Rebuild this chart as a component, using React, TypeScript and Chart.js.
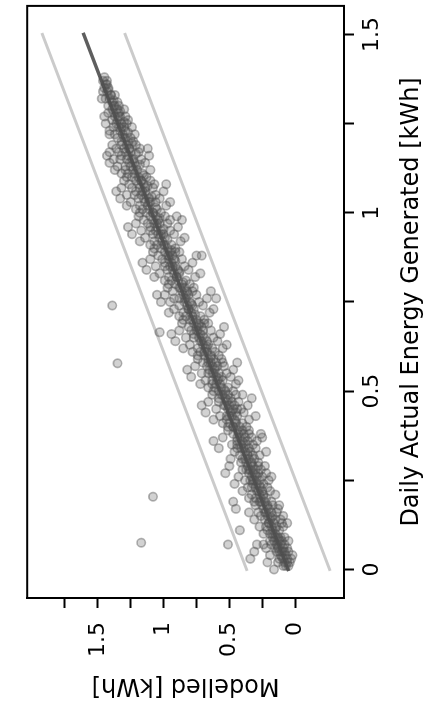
import React, { useEffect, useRef } from 'react';
import { Chart, registerables } from 'chart.js';
Chart.register(...registerables);

// Axis ticks
const actualTickValues = [0, 0.25, 0.5, 0.75, 1, 1.25, 1.5];
const actualTickLabels = ['0', '', '0.5', '', '1', '', '1.5'];
const modelledTickValues = [0, 0.25, 0.5, 0.75, 1, 1.25, 1.5, 1.75];
const modelledTickLabels = ['0', '', '0.5', '', '1', '', '1.5', ''];

// Fit line and +/- band, as [actual, modelled]
const fitLine = [[0, 0.053], [1.5, 1.607]];
const upperBand = [[0, 0.368], [1.5, 1.922]];
const lowerBand = [[0, -0.262], [1.5, 1.292]];

// Scatter points [actual, modelled]
const cloudLow = [
  [0.01,0.05],[0.02,0.08],[0.02,0.04],[0.03,0.09],[0.03,0.06],[0.04,0.11],[0.04,0.07],[0.05,0.12],[0.05,0.08],[0.05,0.10],[0.06,0.13],[0.06,0.09],[0.06,0.15],[0.07,0.11],[0.07,0.14],[0.07,0.08],[0.08,0.16],[0.08,0.12],[0.08,0.10],[0.09,0.17],[0.09,0.13],[0.09,0.11],[0.03,0.12],[0.04,0.02],[0.06,0.06],[0.08,0.19],[0.01,0.09],[0.02,0.13],[0.05,0.05],[0.07,0.18],[0.09,0.08],[0.00,0.16],[0.03,0.34],[0.05,0.31],[0.07,0.29],[0.07,0.24],[0.02,0.21],[0.04,0.19],[0.06,0.22],[0.08,0.05],[0.09,0.15],[0.05,0.14],[0.03,0.03],[0.01,0.07],
  [0.10,0.15],[0.10,0.19],[0.11,0.12],[0.11,0.17],[0.11,0.42],[0.12,0.18],[0.12,0.14],[0.12,0.22],[0.13,0.16],[0.13,0.20],[0.13,0.10],[0.14,0.19],[0.14,0.23],[0.14,0.15],[0.15,0.21],[0.15,0.17],[0.15,0.26],[0.15,0.09],[0.16,0.22],[0.16,0.18],[0.16,0.28],[0.17,0.45],[0.17,0.20],[0.17,0.24],[0.17,0.13],[0.18,0.25],[0.18,0.21],[0.18,0.30],[0.18,0.12],[0.19,0.23],[0.19,0.27],[0.19,0.47],[0.19,0.18],[0.12,0.27],[0.14,0.31],[0.16,0.35],[0.13,0.06],[0.18,0.17],[0.11,0.21],[0.19,0.31],[0.20,0.26],[0.10,0.24],[0.16,0.14],[0.14,0.11],[0.12,0.09],
  [0.20,0.22],[0.20,0.30],[0.21,0.27],[0.21,0.24],[0.21,0.33],[0.22,0.28],[0.22,0.19],[0.22,0.25],[0.23,0.30],[0.23,0.26],[0.23,0.36],[0.23,0.21],[0.24,0.29],[0.24,0.32],[0.24,0.24],[0.25,0.31],[0.25,0.27],[0.25,0.38],[0.25,0.20],[0.26,0.33],[0.26,0.29],[0.26,0.43],[0.26,0.25],[0.27,0.32],[0.27,0.35],[0.27,0.22],[0.28,0.34],[0.28,0.30],[0.28,0.40],[0.28,0.26],[0.29,0.36],[0.29,0.32],[0.29,0.50],[0.29,0.23],[0.22,0.40],[0.24,0.46],[0.27,0.53],[0.21,0.15],[0.26,0.18],[0.29,0.28],[0.23,0.33],[0.27,0.28],[0.20,0.35],[0.25,0.34],[0.28,0.37],
  [0.30,0.33],[0.30,0.37],[0.30,0.28],[0.31,0.35],[0.31,0.40],[0.31,0.31],[0.32,0.36],[0.32,0.42],[0.32,0.27],[0.33,0.38],[0.33,0.34],[0.33,0.46],[0.34,0.39],[0.34,0.35],[0.34,0.30],[0.35,0.41],[0.35,0.37],[0.35,0.48],[0.35,0.32],[0.36,0.40],[0.36,0.44],[0.36,0.29],[0.37,0.42],[0.37,0.38],[0.37,0.55],[0.37,0.33],[0.38,0.43],[0.38,0.39],[0.38,0.47],[0.38,0.26],[0.39,0.44],[0.39,0.40],[0.39,0.35],[0.39,0.51],[0.31,0.49],[0.34,0.58],[0.36,0.62],[0.33,0.22],[0.37,0.25],[0.30,0.41],[0.32,0.32],[0.35,0.44],[0.38,0.35],[0.34,0.44],[0.36,0.36],
];

const cloudMid = [
  [0.40,0.42],[0.40,0.47],[0.40,0.37],[0.41,0.45],[0.41,0.50],[0.41,0.40],[0.42,0.46],[0.42,0.52],[0.42,0.35],[0.43,0.48],[0.43,0.44],[0.43,0.57],[0.44,0.49],[0.44,0.45],[0.44,0.39],[0.45,0.51],[0.45,0.47],[0.45,0.60],[0.45,0.41],[0.46,0.50],[0.46,0.54],[0.46,0.36],[0.47,0.52],[0.47,0.48],[0.47,0.66],[0.47,0.43],[0.48,0.53],[0.48,0.49],[0.48,0.58],[0.48,0.33],[0.49,0.55],[0.49,0.51],[0.49,0.45],[0.49,0.63],[0.42,0.62],[0.44,0.68],[0.46,0.71],[0.43,0.30],[0.41,0.55],[0.47,0.58],[0.40,0.51],[0.45,0.44],[0.49,0.40],[0.43,0.52],[0.46,0.46],
  [0.50,0.53],[0.50,0.58],[0.50,0.47],[0.51,0.56],[0.51,0.61],[0.51,0.51],[0.52,0.57],[0.52,0.63],[0.52,0.45],[0.53,0.59],[0.53,0.55],[0.53,0.68],[0.54,0.60],[0.54,0.56],[0.54,0.49],[0.55,0.62],[0.55,0.58],[0.55,0.71],[0.55,0.52],[0.56,0.61],[0.56,0.65],[0.56,0.47],[0.57,0.63],[0.57,0.59],[0.57,0.76],[0.57,0.54],[0.58,0.64],[0.58,0.60],[0.58,0.70],[0.58,0.44],[0.59,0.66],[0.59,0.62],[0.59,0.56],[0.59,0.74],[0.52,0.72],[0.54,0.79],[0.56,0.82],[0.53,0.43],[0.51,0.66],[0.55,0.66],[0.57,0.67],[0.50,0.62],[0.53,0.63],[0.58,0.55],
  [0.60,0.64],[0.60,0.69],[0.60,0.58],[0.61,0.67],[0.61,0.72],[0.61,0.61],[0.62,0.68],[0.62,0.74],[0.62,0.55],[0.63,0.70],[0.63,0.66],[0.63,0.80],[0.64,0.71],[0.64,0.67],[0.64,0.59],[0.65,0.73],[0.65,0.69],[0.65,0.83],[0.65,0.62],[0.66,0.72],[0.66,0.77],[0.66,0.57],[0.67,0.74],[0.67,0.70],[0.67,0.88],[0.67,0.64],[0.68,0.75],[0.68,0.71],[0.68,0.81],[0.68,0.54],[0.69,0.77],[0.69,0.73],[0.69,0.66],[0.69,0.86],[0.62,0.85],[0.64,0.91],[0.66,0.94],[0.63,0.52],[0.61,0.78],[0.67,0.79],[0.60,0.74],[0.65,0.77],[0.69,0.69],[0.62,0.63],
  [0.70,0.75],[0.70,0.80],[0.70,0.69],[0.71,0.78],[0.71,0.83],[0.71,0.72],[0.72,0.79],[0.72,0.85],[0.72,0.65],[0.73,0.81],[0.73,0.77],[0.73,0.92],[0.74,0.82],[0.74,0.78],[0.74,0.70],[0.75,0.84],[0.75,0.80],[0.75,0.95],[0.75,0.73],[0.76,0.83],[0.76,0.88],[0.76,0.67],[0.77,0.85],[0.77,0.81],[0.77,0.99],[0.77,0.75],[0.78,0.86],[0.78,0.82],[0.78,0.93],[0.78,0.64],[0.79,0.88],[0.79,0.84],[0.79,0.77],[0.79,0.97],[0.72,0.96],[0.75,1.02],[0.77,1.05],[0.73,0.62],[0.76,0.60],[0.71,0.88],[0.74,0.88],[0.70,0.85],[0.78,0.78],[0.76,0.92],
  [0.80,0.86],[0.80,0.91],[0.80,0.80],[0.81,0.89],[0.81,0.94],[0.81,0.83],[0.82,0.90],[0.82,0.96],[0.82,0.76],[0.83,0.92],[0.83,0.88],[0.83,1.03],[0.84,0.93],[0.84,0.89],[0.84,0.81],[0.85,0.95],[0.85,0.91],[0.85,1.06],[0.85,0.84],[0.86,0.94],[0.86,0.99],[0.86,0.78],[0.87,0.96],[0.87,0.92],[0.87,1.10],[0.87,0.86],[0.88,0.97],[0.88,0.93],[0.88,1.04],[0.88,0.75],[0.89,0.99],[0.89,0.95],[0.89,0.88],[0.89,1.08],[0.82,1.07],[0.84,1.13],[0.86,1.16],[0.83,0.72],[0.88,0.71],[0.81,0.99],[0.85,0.99],[0.87,1.01],[0.80,0.96],[0.84,0.97],[0.89,0.91],
];

const cloudHigh = [
  [0.90,0.97],[0.90,1.02],[0.90,0.91],[0.91,1.00],[0.91,1.05],[0.91,0.94],[0.92,1.01],[0.92,1.07],[0.92,0.87],[0.93,1.03],[0.93,0.99],[0.93,1.14],[0.94,1.04],[0.94,1.00],[0.94,0.92],[0.95,1.06],[0.95,1.02],[0.95,1.17],[0.95,0.95],[0.96,1.05],[0.96,1.10],[0.96,0.89],[0.97,1.07],[0.97,1.03],[0.97,1.21],[0.97,0.97],[0.98,1.08],[0.98,1.04],[0.98,1.15],[0.98,0.86],[0.99,1.10],[0.99,1.06],[0.99,0.99],[0.99,1.19],[0.92,1.18],[0.94,1.24],[0.96,1.27],[0.93,0.84],[0.99,0.90],[0.91,1.10],[0.95,1.10],[0.97,1.12],[0.90,1.07],[0.94,1.08],[0.98,0.95],
  [1.00,1.08],[1.00,1.13],[1.00,1.02],[1.01,1.11],[1.01,1.16],[1.01,1.05],[1.02,1.12],[1.02,1.18],[1.02,0.98],[1.03,1.14],[1.03,1.10],[1.03,1.25],[1.04,1.15],[1.04,1.11],[1.04,1.03],[1.05,1.17],[1.05,1.13],[1.05,1.28],[1.05,1.06],[1.06,1.16],[1.06,1.21],[1.06,1.00],[1.07,1.18],[1.07,1.14],[1.07,1.32],[1.07,1.08],[1.08,1.19],[1.08,1.15],[1.08,1.26],[1.08,0.98],[1.09,1.21],[1.09,1.17],[1.09,1.10],[1.09,1.30],[1.02,1.28],[1.04,1.33],[1.06,1.36],[1.03,0.95],[1.01,1.21],[1.05,1.22],[1.07,1.24],[1.00,1.18],[1.04,1.19],[1.08,1.07],[1.03,1.06],
  [1.10,1.19],[1.10,1.24],[1.10,1.13],[1.11,1.22],[1.11,1.27],[1.11,1.16],[1.12,1.23],[1.12,1.29],[1.12,1.10],[1.13,1.25],[1.13,1.21],[1.13,1.35],[1.14,1.26],[1.14,1.22],[1.14,1.14],[1.15,1.28],[1.15,1.24],[1.15,1.38],[1.15,1.17],[1.16,1.27],[1.16,1.32],[1.16,1.11],[1.17,1.29],[1.17,1.25],[1.17,1.41],[1.17,1.19],[1.18,1.30],[1.18,1.26],[1.18,1.36],[1.18,1.12],[1.19,1.32],[1.19,1.28],[1.19,1.21],[1.19,1.39],[1.12,1.37],[1.14,1.41],[1.16,1.43],[1.11,1.32],[1.15,1.33],[1.17,1.34],[1.10,1.28],[1.13,1.29],[1.18,1.18],
  [1.20,1.27],[1.20,1.32],[1.20,1.23],[1.21,1.30],[1.21,1.35],[1.21,1.25],[1.22,1.31],[1.22,1.37],[1.22,1.22],[1.23,1.33],[1.23,1.29],[1.23,1.41],[1.24,1.34],[1.24,1.30],[1.24,1.24],[1.25,1.36],[1.25,1.32],[1.25,1.44],[1.26,1.35],[1.26,1.39],[1.26,1.27],[1.27,1.37],[1.27,1.33],[1.27,1.45],[1.28,1.38],[1.28,1.34],[1.28,1.42],[1.29,1.39],[1.29,1.35],[1.29,1.30],[1.22,1.41],[1.25,1.28],[1.27,1.29],[1.24,1.38],
  [1.30,1.38],[1.30,1.42],[1.31,1.39],[1.31,1.35],[1.32,1.41],[1.32,1.44],[1.33,1.40],[1.33,1.37],[1.34,1.43],[1.34,1.46],[1.35,1.42],[1.35,1.45],[1.36,1.44],[1.37,1.46],[1.37,1.43],[1.38,1.45],[1.30,1.34],[1.32,1.47],
];

// Dense core close to the fit line
const cloudCore = [
  [0.02,0.06],[0.035,0.10],[0.05,0.09],[0.065,0.13],[0.085,0.12],[0.10,0.17],[0.115,0.15],[0.13,0.20],[0.145,0.18],[0.16,0.23],
  [0.175,0.21],[0.19,0.26],[0.205,0.24],[0.22,0.29],[0.235,0.27],[0.25,0.32],[0.265,0.30],[0.28,0.35],[0.295,0.33],[0.31,0.38],
  [0.325,0.36],[0.34,0.41],[0.355,0.39],[0.37,0.44],[0.385,0.42],[0.40,0.47],[0.415,0.45],[0.43,0.50],[0.445,0.48],[0.46,0.53],
  [0.475,0.51],[0.49,0.56],[0.505,0.54],[0.52,0.60],[0.535,0.58],[0.55,0.63],[0.565,0.61],[0.58,0.66],[0.595,0.64],[0.61,0.69],
  [0.625,0.67],[0.64,0.72],[0.655,0.70],[0.67,0.75],[0.685,0.73],[0.70,0.78],[0.715,0.76],[0.73,0.81],[0.745,0.79],[0.76,0.84],
  [0.775,0.82],[0.79,0.87],[0.805,0.85],[0.82,0.90],[0.835,0.88],[0.85,0.93],[0.865,0.91],[0.88,0.96],[0.895,0.94],[0.91,0.99],
  [0.925,0.97],[0.94,1.02],[0.955,1.00],[0.97,1.05],[0.985,1.03],[1.00,1.08],[1.015,1.06],[1.03,1.11],[1.045,1.09],[1.06,1.14],
  [1.075,1.12],[1.09,1.17],[1.105,1.15],[1.12,1.20],[1.135,1.18],[1.15,1.23],[1.165,1.21],[1.18,1.26],[1.195,1.24],[1.21,1.29],
  [1.225,1.27],[1.24,1.32],[1.255,1.30],[1.27,1.34],[1.285,1.33],[1.30,1.37],[1.315,1.38],[1.33,1.40],[1.345,1.42],[1.36,1.43],
];

const outliers = [
  [0.075,1.17],[0.204,1.08],[0.578,1.35],[0.74,1.39],[0.665,1.03],[0.07,0.51],
];

const FONT = 'DejaVu Sans';

export default function App() {
  const ref = useRef<HTMLCanvasElement>(null);

  useEffect(() => {
    const toXY = (arr: number[][]) => arr.map(([a, m]) => ({ x: a, y: m }));
    const framePlugin = {
      id: 'frame',
      afterDraw(chart: any) {
        const { ctx, chartArea: c } = chart;
        ctx.save();
        ctx.strokeStyle = '#000';
        ctx.lineWidth = 2;
        ctx.strokeRect(c.left, c.top, c.right - c.left, c.bottom - c.top);
        ctx.restore();
      },
    };
    const lineDs = (data: number[][], color: string, width: number) => ({
      data: toXY(data),
      showLine: true,
      borderColor: color,
      borderWidth: width,
      borderCapStyle: 'square',
      pointRadius: 0,
      order: 2,
    });
    const chart = new Chart(ref.current as HTMLCanvasElement, {
      type: 'scatter',
      data: {
        datasets: [
          {
            data: toXY([...cloudLow, ...cloudMid, ...cloudHigh, ...cloudCore, ...outliers]),
            pointRadius: 4.2,
            pointBorderWidth: 1.7,
            pointBackgroundColor: 'rgba(80,80,80,0.26)',
            pointBorderColor: 'rgba(80,80,80,0.42)',
            order: 1,
          } as any,
          lineDs(upperBand, '#cbcbcb', 3) as any,
          lineDs(lowerBand, '#cbcbcb', 3) as any,
          lineDs(fitLine, '#5e5e5e', 3.5) as any,
        ],
      },
      options: {
        responsive: false,
        animation: false,
        events: [],
        layout: { padding: { top: 13, right: 4, left: 0, bottom: 0 } },
        plugins: { legend: { display: false }, tooltip: { enabled: false } },
        scales: {
          x: {
            type: 'linear',
            position: 'bottom',
            min: -0.08,
            max: 1.58,
            afterFit: (s: any) => { s.height = 84; },
            afterBuildTicks: (s: any) => { s.ticks = actualTickValues.map((v) => ({ value: v })); },
            ticks: {
              autoSkip: false,
              maxRotation: 0,
              padding: 5,
              color: '#000',
              font: { family: FONT, size: 22 },
              callback: (_v: any, i: number) => actualTickLabels[i],
            },
            grid: { display: true, drawOnChartArea: false, drawTicks: true, tickLength: 10, tickWidth: 2, color: '#000' },
            border: { display: true, color: '#000', width: 2 },
            title: {
              display: true,
              text: 'Daily Actual Energy Generated [kWh]',
              color: '#000',
              font: { family: FONT, size: 24 },
              padding: { top: 0, bottom: 2 },
            },
          },
          y: {
            type: 'linear',
            position: 'left',
            min: -0.372,
            max: 2.037,
            afterFit: (s: any) => { s.width = 108; },
            afterBuildTicks: (s: any) => { s.ticks = modelledTickValues.map((v) => ({ value: v })); },
            ticks: {
              autoSkip: false,
              padding: 14,
              color: '#000',
              font: { family: FONT, size: 22 },
              callback: (_v: any, i: number) => modelledTickLabels[i],
            },
            grid: { display: true, drawOnChartArea: false, drawTicks: true, tickLength: 10, tickWidth: 2, color: '#000' },
            border: { display: true, color: '#000', width: 2 },
            title: {
              display: true,
              text: 'Modelled [kWh]',
              color: '#000',
              font: { family: FONT, size: 24 },
              padding: { top: 6, bottom: 0 },
            },
          },
        },
      } as any,
      plugins: [framePlugin as any],
    });
    return () => chart.destroy();
  }, []);

  return (
    <div style={{ position: 'fixed', left: 0, top: 0, width: 428, height: 706, background: '#fff', overflow: 'hidden' }}>
      <div
        style={{
          position: 'absolute',
          left: 0,
          top: 0,
          width: 706,
          height: 428,
          transformOrigin: '0 0',
          transform: 'translate(0px, 706px) rotate(-90deg)',
        }}
      >
        <canvas ref={ref} width={706} height={428} style={{ display: 'block', width: 706, height: 428 }} />
      </div>
    </div>
  );
}
